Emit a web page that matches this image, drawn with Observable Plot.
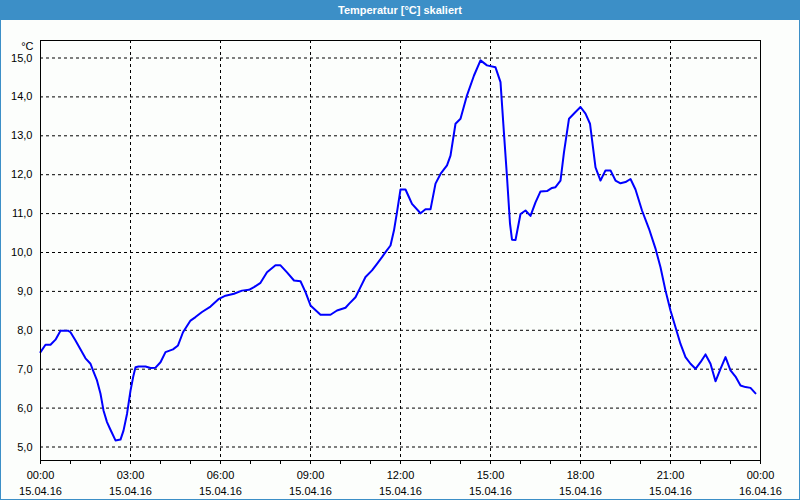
<!DOCTYPE html>
<html>
<head>
<meta charset="utf-8">
<script src="https://cdn.jsdelivr.net/npm/d3@7"></script>
<script src="https://cdn.jsdelivr.net/npm/@observablehq/plot@0.6"></script>
<style>
  html, body { margin: 0; padding: 0; background: #fcfefc; }
  #wrap { position: relative; width: 800px; height: 500px; background: #fcfefc; overflow: hidden; }
  #title { height: 20px; background: #3c8fc7; color: #fff; font: bold 11px "Liberation Sans", sans-serif; text-align: center; line-height: 20px; }
  #border { position: absolute; left: 0; top: 0; width: 800px; height: 500px; box-sizing: border-box; border: 1px solid #3c8fc7; border-top: none; pointer-events: none; }
  #chart svg { display: block; }
</style>
</head>
<body>
<div id="wrap">
  <div id="title">Temperatur [°C] skaliert</div>
  <div id="chart"></div>
  <div id="border"></div>
</div>
<script>
const times = [
  "00:00","00:10","00:20","00:30","00:40","00:55","01:00","01:10","01:30","01:40",
  "01:45","01:53","02:00","02:06","02:13","02:19","02:30","02:40","02:46","02:53",
  "03:00","03:06","03:10","03:16","03:30","03:40","03:50","04:00","04:10","04:25",
  "04:35","04:45","05:00","05:10","05:23","05:40","05:57","06:10","06:27","06:43",
  "06:57","07:07","07:20","07:33","07:50","08:00","08:13","08:27","08:40","08:50",
  "09:00","09:20","09:40","09:53","10:10","10:17","10:30","10:40","10:50","11:03",
  "11:13","11:23","11:30","11:40","11:47","11:53","12:00","12:10","12:17","12:23",
  "12:40","12:50","13:00","13:10","13:20","13:33","13:40","13:50","14:00","14:13",
  "14:27","14:40","14:53","15:10","15:20","15:27","15:33","15:39","15:43","15:50",
  "16:00","16:10","16:20","16:30","16:40","16:53","17:03","17:10","17:20","17:27",
  "17:37","17:50","18:00","18:10","18:19","18:30","18:40","18:50","19:00","19:10",
  "19:20","19:30","19:40","19:50","20:03","20:17","20:30","20:40","20:50","21:00",
  "21:10","21:20","21:30","21:40","21:50","22:00","22:10","22:20","22:30","22:40",
  "22:50","23:00","23:10","23:20","23:30","23:40","23:50"
];
const temps = [
  7.44, 7.63, 7.63, 7.76, 7.99, 7.99, 7.95, 7.74, 7.28, 7.14,
  6.97, 6.71, 6.37, 5.94, 5.64, 5.47, 5.17, 5.19, 5.42, 5.85,
  6.45, 6.84, 7.05, 7.07, 7.07, 7.03, 7.04, 7.18, 7.44, 7.51,
  7.61, 7.95, 8.25, 8.34, 8.47, 8.61, 8.81, 8.89, 8.94, 9.02,
  9.04, 9.11, 9.22, 9.49, 9.67, 9.67, 9.49, 9.28, 9.26, 8.98,
  8.64, 8.40, 8.40, 8.51, 8.58, 8.68, 8.85, 9.11, 9.37, 9.54,
  9.71, 9.88, 10.01, 10.18, 10.57, 11.04, 11.62, 11.62, 11.42, 11.25,
  11.01, 11.11, 11.11, 11.77, 12.02, 12.24, 12.49, 13.31, 13.44, 14.04,
  14.55, 14.94, 14.81, 14.76, 14.38, 13.05, 11.94, 10.74, 10.33, 10.32,
  10.99, 11.08, 10.94, 11.29, 11.57, 11.58, 11.66, 11.68, 11.85, 12.58,
  13.44, 13.61, 13.74, 13.57, 13.31, 12.19, 11.85, 12.11, 12.11, 11.85,
  11.78, 11.81, 11.89, 11.62, 11.08, 10.61, 10.10, 9.62, 9.02, 8.51,
  8.08, 7.65, 7.31, 7.14, 7.01, 7.18, 7.38, 7.14, 6.69, 7.01,
  7.31, 6.97, 6.81, 6.58, 6.54, 6.52, 6.38
];
const yTicks = [5, 6, 7, 8, 9, 10, 11, 12, 13, 14, 15];
const xLabelHours = [0, 3, 6, 9, 12, 15, 18, 21, 24];
const xMinorHours = [0,1,2,3,4,5,6,7,8,9,10,11,12,13,14,15,16,17,18,19,20,21,22,23,24];
const xGridHours = [3, 6, 9, 12, 15, 18, 21];
const yUnit = "°C";

const at = (h, m = 0) => new Date(Date.UTC(2016, 3, 15, h, m));
const rows = times.map((s, i) => {
  const [h, m] = s.split(":").map(Number);
  return { t: at(h, m), v: temps[i] };
});
const labelDates = xLabelHours.map(h => at(h));
const fmtTime = d3.utcFormat("%H:%M");
const fmtDate = d3.utcFormat("%d.%m.%y");

const chart = Plot.plot({
  width: 800,
  height: 480,
  marginLeft: 40,
  marginRight: 40,
  marginTop: 20,
  marginBottom: 40,
  x: { type: "utc", domain: [at(0), at(24)] },
  y: { domain: [4.653, 15.45] },
  style: { background: "transparent", fontFamily: "'Liberation Sans', sans-serif", fontSize: "11px", color: "#000" },
  marks: [
    Plot.gridY(yTicks, { stroke: "#000", strokeOpacity: 1, strokeDasharray: "3,3" }),
    Plot.gridX(xGridHours.map(h => at(h)), { stroke: "#000", strokeOpacity: 1, strokeDasharray: "3,3" }),
    Plot.line(rows, { x: "t", y: "v", stroke: "#0000ff", strokeWidth: 2 }),
    Plot.frame({ stroke: "#000" }),
    Plot.axisY(yTicks, { tickSize: 0, tickPadding: 8, label: null, tickFormat: d => d.toFixed(1).replace(".", ",") }),
    Plot.axisX(xMinorHours.map(h => at(h)), { tickSize: 4, label: null, tickFormat: () => "" }),
    Plot.text(labelDates, { x: d => d, text: d => fmtTime(d), frameAnchor: "bottom", dy: 15, lineAnchor: "middle" }),
    Plot.text(labelDates, { x: d => d, text: d => fmtDate(d), frameAnchor: "bottom", dy: 30.5, lineAnchor: "middle" }),
    Plot.text([yUnit], { text: d => d, frameAnchor: "top-left", dx: -7, dy: 5.5, textAnchor: "end", lineAnchor: "middle" })
  ]
});
document.getElementById("chart").appendChild(chart);
</script>
</body>
</html>
